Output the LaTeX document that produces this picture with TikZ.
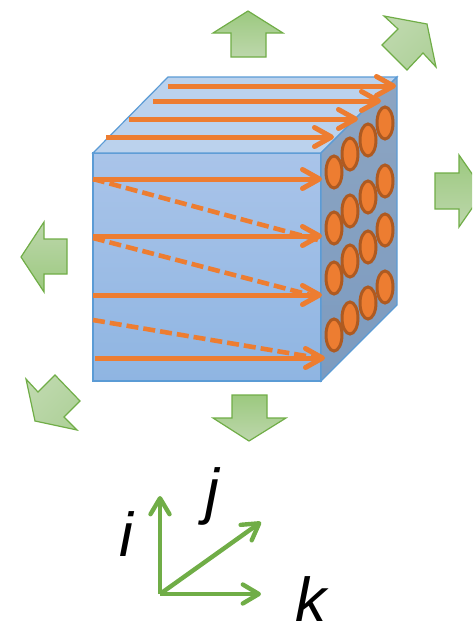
\documentclass[tikz,border=0pt]{standalone}
\usepackage{fontspec}
\setmainfont{Liberation Sans}
\usetikzlibrary{arrows.meta}
\definecolor{orangeL}{HTML}{ED7D31}
\definecolor{orangeD}{HTML}{AE5A21}
\definecolor{edgeB}{HTML}{5B9BD5}
\definecolor{greenL}{HTML}{70AD47}
\definecolor{gA}{HTML}{9CC97F}
\definecolor{gB}{HTML}{BDD7AC}
\definecolor{gC}{HTML}{AFD19A}
\definecolor{gD}{HTML}{BFD9AE}
\tikzset{
  bigarrow/.style={draw=greenL,line width=1.2pt,line join=miter,top color=gA,bottom color=gB},
  diagarrow/.style={draw=greenL,line width=1.2pt,line join=miter,top color=gD,bottom color=gC},
  flow/.style={draw=orangeL,line width=5pt,-{Straight Barb[length=17pt,width=19pt,line width=5pt,round]}},
  flowdash/.style={draw=orangeL,line width=4.6pt,dash pattern=on 12pt off 5pt},
  hole/.style={draw=orangeD,line width=3pt,fill=orangeL},
  axis/.style={draw=greenL,line width=4.4pt,-{Straight Barb[length=16pt,width=19pt,line width=4.4pt,round]}},
  letter/.style={font=\fontsize{62}{62}\selectfont\itshape,text=black,inner sep=0pt}
}
\begin{document}
\begin{tikzpicture}[x=1pt,y=-1pt]
\useasboundingbox (0,0) rectangle (472,624);
\clip (0,0) rectangle (472,624);
% green arrows
\draw[bigarrow] (248,11)--(283,33)--(266,33)--(266,57)--(231,57)--(231,33)--(213,33)--cycle;
\draw[bigarrow,shading angle=90,top color=gA,bottom color=gB] (435,173)--(459,173)--(459,155)--(484,191)--(459,227)--(459,209)--(435,209)--cycle;
\draw[bigarrow,shading angle=90,top color=gB,bottom color=gA] (21,257)--(44,222)--(44,239)--(67,239)--(67,274)--(44,274)--(44,292)--cycle;
\draw[bigarrow] (232,395)--(267,395)--(267,418)--(286,418)--(249,441)--(213,418)--(232,418)--cycle;
\draw[diagarrow,shading angle=45] (384,16)--(427,24)--(436,67)--(423,53)--(407,70)--(382,45)--(398,29)--cycle;
\draw[diagarrow,shading angle=45] (26,379)--(38,392)--(55,375)--(80,401)--(64,417)--(77,430)--(35,421)--cycle;
% cube
\path[draw=edgeB,line width=1.2pt,top color={rgb,255:red,169;green,196;blue,233},bottom color={rgb,255:red,143;green,181;blue,226}] (93,153)--(321,153)--(321,381)--(93,381)--cycle;
\path[draw=edgeB,line width=1.2pt,fill={rgb,255:red,187;green,210;blue,237}] (93,153)--(168,77)--(397,77)--(321,153)--cycle;
\path[draw=edgeB,line width=1.2pt,top color={rgb,255:red,141;green,165;blue,194},bottom color={rgb,255:red,124;green,155;blue,192}] (321,153)--(397,77)--(397,305)--(321,381)--cycle;
% top arrows
\draw[flow] (168,86)--(396,86);
\draw[flow] (153,101)--(381,101);
\draw[flow] (129,119)--(358,119);
\draw[flow] (106,137)--(334,137);
% dashed returns
\draw[flowdash] (93,179)--(318,240);
\draw[flowdash] (93,238)--(318,297);
\draw[flowdash] (93,320)--(318,358);
% front arrows
\draw[flow] (93,179)--(322,179);
\draw[flow] (93,236)--(322,236);
\draw[flow] (93,295)--(322,295);
\draw[flow] (95,358)--(325,358);
% holes
\foreach \y/\a/\b/\c in {172/154/140/123,228/211/197/181,278/261/247/230,335/318/303/287}{
  \draw[hole] (385,\c) ellipse (8 and 16);
  \draw[hole] (368,\b) ellipse (8 and 16);
  \draw[hole] (350,\a) ellipse (8 and 16);
  \draw[hole] (334,\y) ellipse (8 and 16);
}
% axes
\coordinate (o) at (160,594);
\coordinate (ti) at (160,496);
\coordinate (tj) at (261,522);
\coordinate (tk) at (261,594);
\draw[axis] (o)--(ti);
\draw[axis] (o)--(tj);
\draw[axis] (o)--(tk);
\node[letter] (li) at (126,534) {i};
\node[letter] (lj) at (212,496) {j};
\node[letter] (lk) at (311,599) {k};
\end{tikzpicture}
\end{document}
